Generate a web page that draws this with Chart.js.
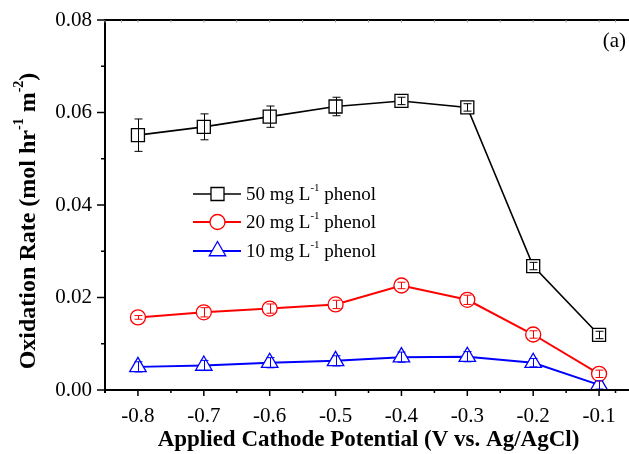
<!DOCTYPE html>
<html>
<head>
<meta charset="utf-8">
<script src="https://cdn.jsdelivr.net/npm/chart.js@4/dist/chart.umd.min.js"></script>
<style>
html,body{margin:0;padding:0;background:#fff;overflow:hidden;width:629px;height:454px;}
canvas{display:block;}
</style>
</head>
<body>
<canvas id="c" width="640" height="454"></canvas>
<script>
const potentials = [-0.8, -0.7, -0.6, -0.5, -0.4, -0.3, -0.2, -0.1];
const rate50 = [0.0551, 0.0569, 0.0591, 0.0613, 0.0625, 0.0611, 0.0268, 0.0119];
const err50  = [0.0035, 0.0028, 0.0023, 0.0020, 0.0008, 0.0008, 0.0008, 0.0008];
const rate20 = [0.0157, 0.0168, 0.0176, 0.0185, 0.0226, 0.0195, 0.0120, 0.0035];
const err20  = [0.0004, 0.0010, 0.0010, 0.0009, 0.0007, 0.0010, 0.0008, 0.0008];
const rate10 = [0.0050, 0.0053, 0.0059, 0.0063, 0.0071, 0.0072, 0.0059, 0.0011];
const err10  = [0.0011, 0.0011, 0.0011, 0.0011, 0.0011, 0.0011, 0.0009, 0.0009];
const xTickValues = [-0.8, -0.7, -0.6, -0.5, -0.4, -0.3, -0.2, -0.1];
const yTickValues = [0, 0.02, 0.04, 0.06, 0.08];
const seriesNames = ['50 mg L', '20 mg L', '10 mg L'];

const SERIF = '"Liberation Serif", "Times New Roman", serif';

function drawRich(ctx, x, y, parts, size, bold, align) {
  const w = parts.map(p => {
    ctx.font = (bold ? 'bold ' : '') + (p.sup ? Math.round(size * 0.6) : size) + 'px ' + SERIF;
    return ctx.measureText(p.t).width;
  });
  const total = w.reduce((a, b) => a + b, 0);
  let cx = align === 'center' ? x - total / 2 : (align === 'right' ? x - total : x);
  parts.forEach((p, i) => {
    ctx.font = (bold ? 'bold ' : '') + (p.sup ? Math.round(size * 0.6) : size) + 'px ' + SERIF;
    ctx.fillText(p.t, cx, p.sup ? y - size * 0.38 : y);
    cx += w[i];
  });
}

const decor = {
  id: 'decor',
  afterDatasetsDraw(chart) {
    const ctx = chart.ctx;
    const xs = chart.scales.x, ys = chart.scales.y;
    const errs = [err50, err20, err10];
    chart.data.datasets.forEach((ds, di) => {
      ctx.save();
      ctx.strokeStyle = ds.borderColor;
      ctx.lineWidth = 1;
      ds.data.forEach((p, i) => {
        const px = Math.round(xs.getPixelForValue(p.x)) + 0.5;
        const y1 = ys.getPixelForValue(p.y + errs[di][i]);
        const y2 = ys.getPixelForValue(p.y - errs[di][i]);
        ctx.beginPath();
        ctx.moveTo(px, y1); ctx.lineTo(px, y2);
        ctx.moveTo(px - 4, y1); ctx.lineTo(px + 4, y1);
        ctx.moveTo(px - 4, y2); ctx.lineTo(px + 4, y2);
        ctx.stroke();
      });
      ctx.restore();
    });
  },
  afterDraw(chart) {
    const ctx = chart.ctx;
    const xs = chart.scales.x, ys = chart.scales.y;
    const a = chart.chartArea;
    ctx.save();
    ctx.strokeStyle = '#000';
    ctx.lineWidth = 2;
    ctx.beginPath();
    ctx.moveTo(a.left, a.top - 1); ctx.lineTo(a.left, a.bottom + 3);
    ctx.moveTo(a.left - 1, a.bottom); ctx.lineTo(a.right + 1, a.bottom);
    ctx.moveTo(a.left - 1, a.top); ctx.lineTo(a.right + 1, a.top);
    ctx.moveTo(a.right, a.top); ctx.lineTo(a.right, a.bottom);
    ctx.stroke();
    // y ticks
    ctx.lineWidth = 1.5;
    ctx.beginPath();
    yTickValues.forEach((v, i) => {
      const py = ys.getPixelForValue(v);
      ctx.moveTo(a.left - 8, py); ctx.lineTo(a.left, py);
      if (i < yTickValues.length - 1) {
        const pm = ys.getPixelForValue((v + yTickValues[i + 1]) / 2);
        ctx.moveTo(a.left - 4, pm); ctx.lineTo(a.left, pm);
      }
    });
    // x ticks
    const xAll = [xs.min].concat(xTickValues).concat([xs.max]);
    xTickValues.forEach((v) => {
      const px = xs.getPixelForValue(v);
      ctx.moveTo(px, a.bottom); ctx.lineTo(px, a.bottom + 6);
    });
    for (let i = 1; i < xAll.length - 1; i++) {
      const pm = xs.getPixelForValue((xAll[i] + xAll[i + 1]) / 2);
      ctx.moveTo(pm, a.bottom); ctx.lineTo(pm, a.bottom + 3);
    }
    ctx.stroke();
    // faint top ticks
    ctx.strokeStyle = '#999';
    ctx.lineWidth = 1;
    ctx.beginPath();
    for (let i = 0; i < xAll.length; i++) {
      const px = xs.getPixelForValue(xAll[i]);
      ctx.moveTo(px, a.top); ctx.lineTo(px, a.top + 2.5);
      if (i < xAll.length - 1) {
        const pm = xs.getPixelForValue((xAll[i] + xAll[i + 1]) / 2);
        ctx.moveTo(pm, a.top); ctx.lineTo(pm, a.top + 2.5);
      }
    }
    ctx.stroke();

    // y axis title
    ctx.fillStyle = '#000';
    ctx.textBaseline = 'middle';
    ctx.save();
    ctx.translate(29, 221);
    ctx.rotate(-Math.PI / 2);
    drawRich(ctx, 0, 0, [
      {t: 'Oxidation Rate (mol hr'}, {t: '-1', sup: true}, {t: ' m'}, {t: '-2', sup: true}, {t: ')'}
    ], 24, true, 'center');
    ctx.restore();

    // panel label
    ctx.font = '21px ' + SERIF;
    ctx.textAlign = 'right';
    ctx.fillText('(a)', 626, 41);
    ctx.textAlign = 'left';

    // legend
    const rowY = [194, 222, 251];
    chart.data.datasets.forEach((ds, i) => {
      const y = rowY[i];
      ctx.strokeStyle = ds.borderColor;
      ctx.lineWidth = ds.borderWidth;
      ctx.beginPath();
      ctx.moveTo(193, y); ctx.lineTo(241, y);
      ctx.stroke();
      ctx.lineWidth = ds.pointBorderWidth;
      ctx.fillStyle = '#fff';
      Chart.helpers.drawPoint(ctx, {pointStyle: ds.pointStyle, radius: ds.pointRadius, borderWidth: ds.pointBorderWidth, rotation: 0}, 217.5, y);
      ctx.fillStyle = '#000';
      ctx.textBaseline = 'middle';
      drawRich(ctx, 246, y + 1, [{t: seriesNames[i]}, {t: '-1', sup: true}, {t: ' phenol'}], 19, false, 'left');
    });
    ctx.restore();
  }
};

const mk = (arr) => potentials.map((x, i) => ({x: x, y: arr[i]}));

new Chart(document.getElementById('c'), {
  type: 'line',
  data: {
    datasets: [
      {label: '50 mg L-1 phenol', data: mk(rate50), borderColor: '#000000', backgroundColor: '#ffffff',
       borderWidth: 1.6, pointStyle: 'rect', pointRadius: 9.2, pointBorderWidth: 1.3, pointBackgroundColor: '#ffffff', clip: false},
      {label: '20 mg L-1 phenol', data: mk(rate20), borderColor: '#ff0000', backgroundColor: '#ffffff',
       borderWidth: 2, pointStyle: 'circle', pointRadius: 7.5, pointBorderWidth: 1.3, pointBackgroundColor: '#ffffff', clip: false},
      {label: '10 mg L-1 phenol', data: mk(rate10), borderColor: '#0000ff', backgroundColor: '#ffffff',
       borderWidth: 2, pointStyle: 'triangle', pointRadius: 9.5, pointBorderWidth: 1.3, pointBackgroundColor: '#ffffff', clip: false}
    ]
  },
  options: {
    responsive: false,
    animation: false,
    devicePixelRatio: 1,
    layout: {autoPadding: false, padding: {top: 20, right: 8, left: 0, bottom: 0}},
    plugins: {legend: {display: false}, tooltip: {enabled: false}},
    elements: {line: {tension: 0}},
    scales: {
      x: {
        type: 'linear', min: -0.85, max: -0.05,
        afterBuildTicks: (s) => { s.ticks = xTickValues.map(v => ({value: v})); },
        afterFit: (s) => { s.height = 64; s.paddingLeft = 0; s.paddingRight = 0; },
        grid: {display: false, drawTicks: true, tickLength: 14},
        border: {display: false},
        ticks: {color: '#000', padding: 0, font: {family: SERIF, size: 21},
                callback: (v) => v.toFixed(1)},
        title: {display: true, text: 'Applied Cathode Potential (V vs. Ag/AgCl)', color: '#000',
                font: {family: SERIF, size: 23, weight: 'bold'}, padding: {top: 0, bottom: 0}}
      },
      y: {
        type: 'linear', min: 0, max: 0.08,
        afterBuildTicks: (s) => { s.ticks = yTickValues.map(v => ({value: v})); },
        afterFit: (s) => { s.width = 105; },
        grid: {display: false, drawTicks: true, tickLength: 13},
        border: {display: false},
        ticks: {color: '#000', padding: 0, font: {family: SERIF, size: 21},
                callback: (v) => v.toFixed(2)}
      }
    }
  },
  plugins: [decor]
});
</script>
</body>
</html>
